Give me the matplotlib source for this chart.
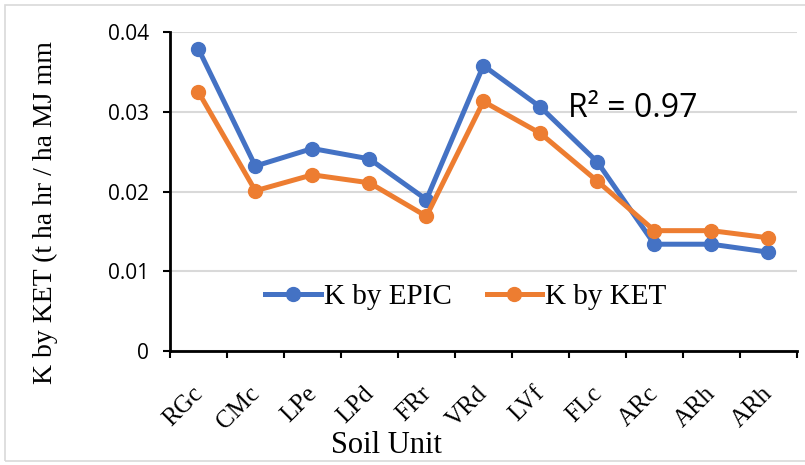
import matplotlib.pyplot as plt
import matplotlib.transforms as mtransforms
from matplotlib.patches import Rectangle

# data
soil_units = ['RGc', 'CMc', 'LPe', 'LPd', 'FRr', 'VRd', 'LVf', 'FLc', 'ARc', 'ARh', 'ARh']
k_epic = [0.0379, 0.0232, 0.0254, 0.0241, 0.0190, 0.0358, 0.0306, 0.0237, 0.0134, 0.0134, 0.0124]
k_ket = [0.0325, 0.0201, 0.0221, 0.0211, 0.0169, 0.0313, 0.0273, 0.0213, 0.0151, 0.0151, 0.0142]
yticks = [0, 0.01, 0.02, 0.03, 0.04]
ytick_labels = ['0', '0.01', '0.02', '0.03', '0.04']

serif = 'Liberation Serif'
sans = 'Open Sans'

fig = plt.figure(figsize=(8.05, 4.65), dpi=100)
ax = fig.add_axes([0.211, 0.245, 0.779, 0.686])

# frame around the chart
fig.patches.append(Rectangle((0.006, 0.008), 1.2, 0.982, transform=fig.transFigure,
                             fill=False, edgecolor='#d9d9d9', lw=1.2))

x = list(range(len(soil_units)))
ax.plot(x, k_epic, color='#4472C4', lw=3.6, marker='o', ms=10, label='K by EPIC', zorder=3)
ax.plot(x, k_ket, color='#ED7D31', lw=3.6, marker='o', ms=10, label='K by KET', zorder=3)

ax.set_xlim(-0.5, len(soil_units) - 0.5)
ax.set_ylim(0, 0.04)
ax.set_yticks(yticks)
ax.set_yticklabels(ytick_labels, fontfamily=sans, fontsize=15)
ax.yaxis.grid(True, color='#d9d9d9', lw=1.5)
ax.set_axisbelow(True)

# category labels, rotated, a bit left of each category centre
ax.set_xticks(x)
ax.set_xticklabels([])
label_tr = ax.get_xaxis_transform() + mtransforms.ScaledTranslation(-0.07, -0.31, fig.dpi_scale_trans)
for xi, name in zip(x, soil_units):
    ax.text(xi, 0, name, transform=label_tr, rotation=45, ha='right', va='top',
            rotation_mode='anchor', fontfamily=serif, fontsize=18)
ax.set_xticks([i - 0.5 for i in range(len(soil_units) + 1)], minor=True)
ax.tick_params(axis='x', which='major', length=0)
ax.tick_params(axis='x', which='minor', length=5, width=1.5, direction='out')
ax.tick_params(axis='y', length=5, width=1.5, direction='out', pad=10)

for side in ['top', 'right']:
    ax.spines[side].set_visible(False)
for side in ['left', 'bottom']:
    ax.spines[side].set_linewidth(2)

ax.set_xlabel('Soil Unit', fontfamily=serif, fontsize=22)
ax.xaxis.set_label_coords(0.346, -0.295)
ax.xaxis.label.set_va('center')
ax.set_ylabel('K by KET (t ha hr / ha MJ mm', fontfamily=serif, fontsize=20)
ax.yaxis.set_label_coords(-0.198, 0.433)
ax.yaxis.label.set_va('center')

ax.text(6.48, 0.0304, 'R² = 0.97', fontfamily=sans, fontsize=23, va='center', ha='left')

ax.legend(loc='center', bbox_to_anchor=(0.472, 0.169), ncol=2, frameon=False,
          prop={'family': serif, 'size': 21}, handlelength=1.9, handletextpad=0.1,
          columnspacing=1.2)

fig.savefig('out.png', dpi=100)
